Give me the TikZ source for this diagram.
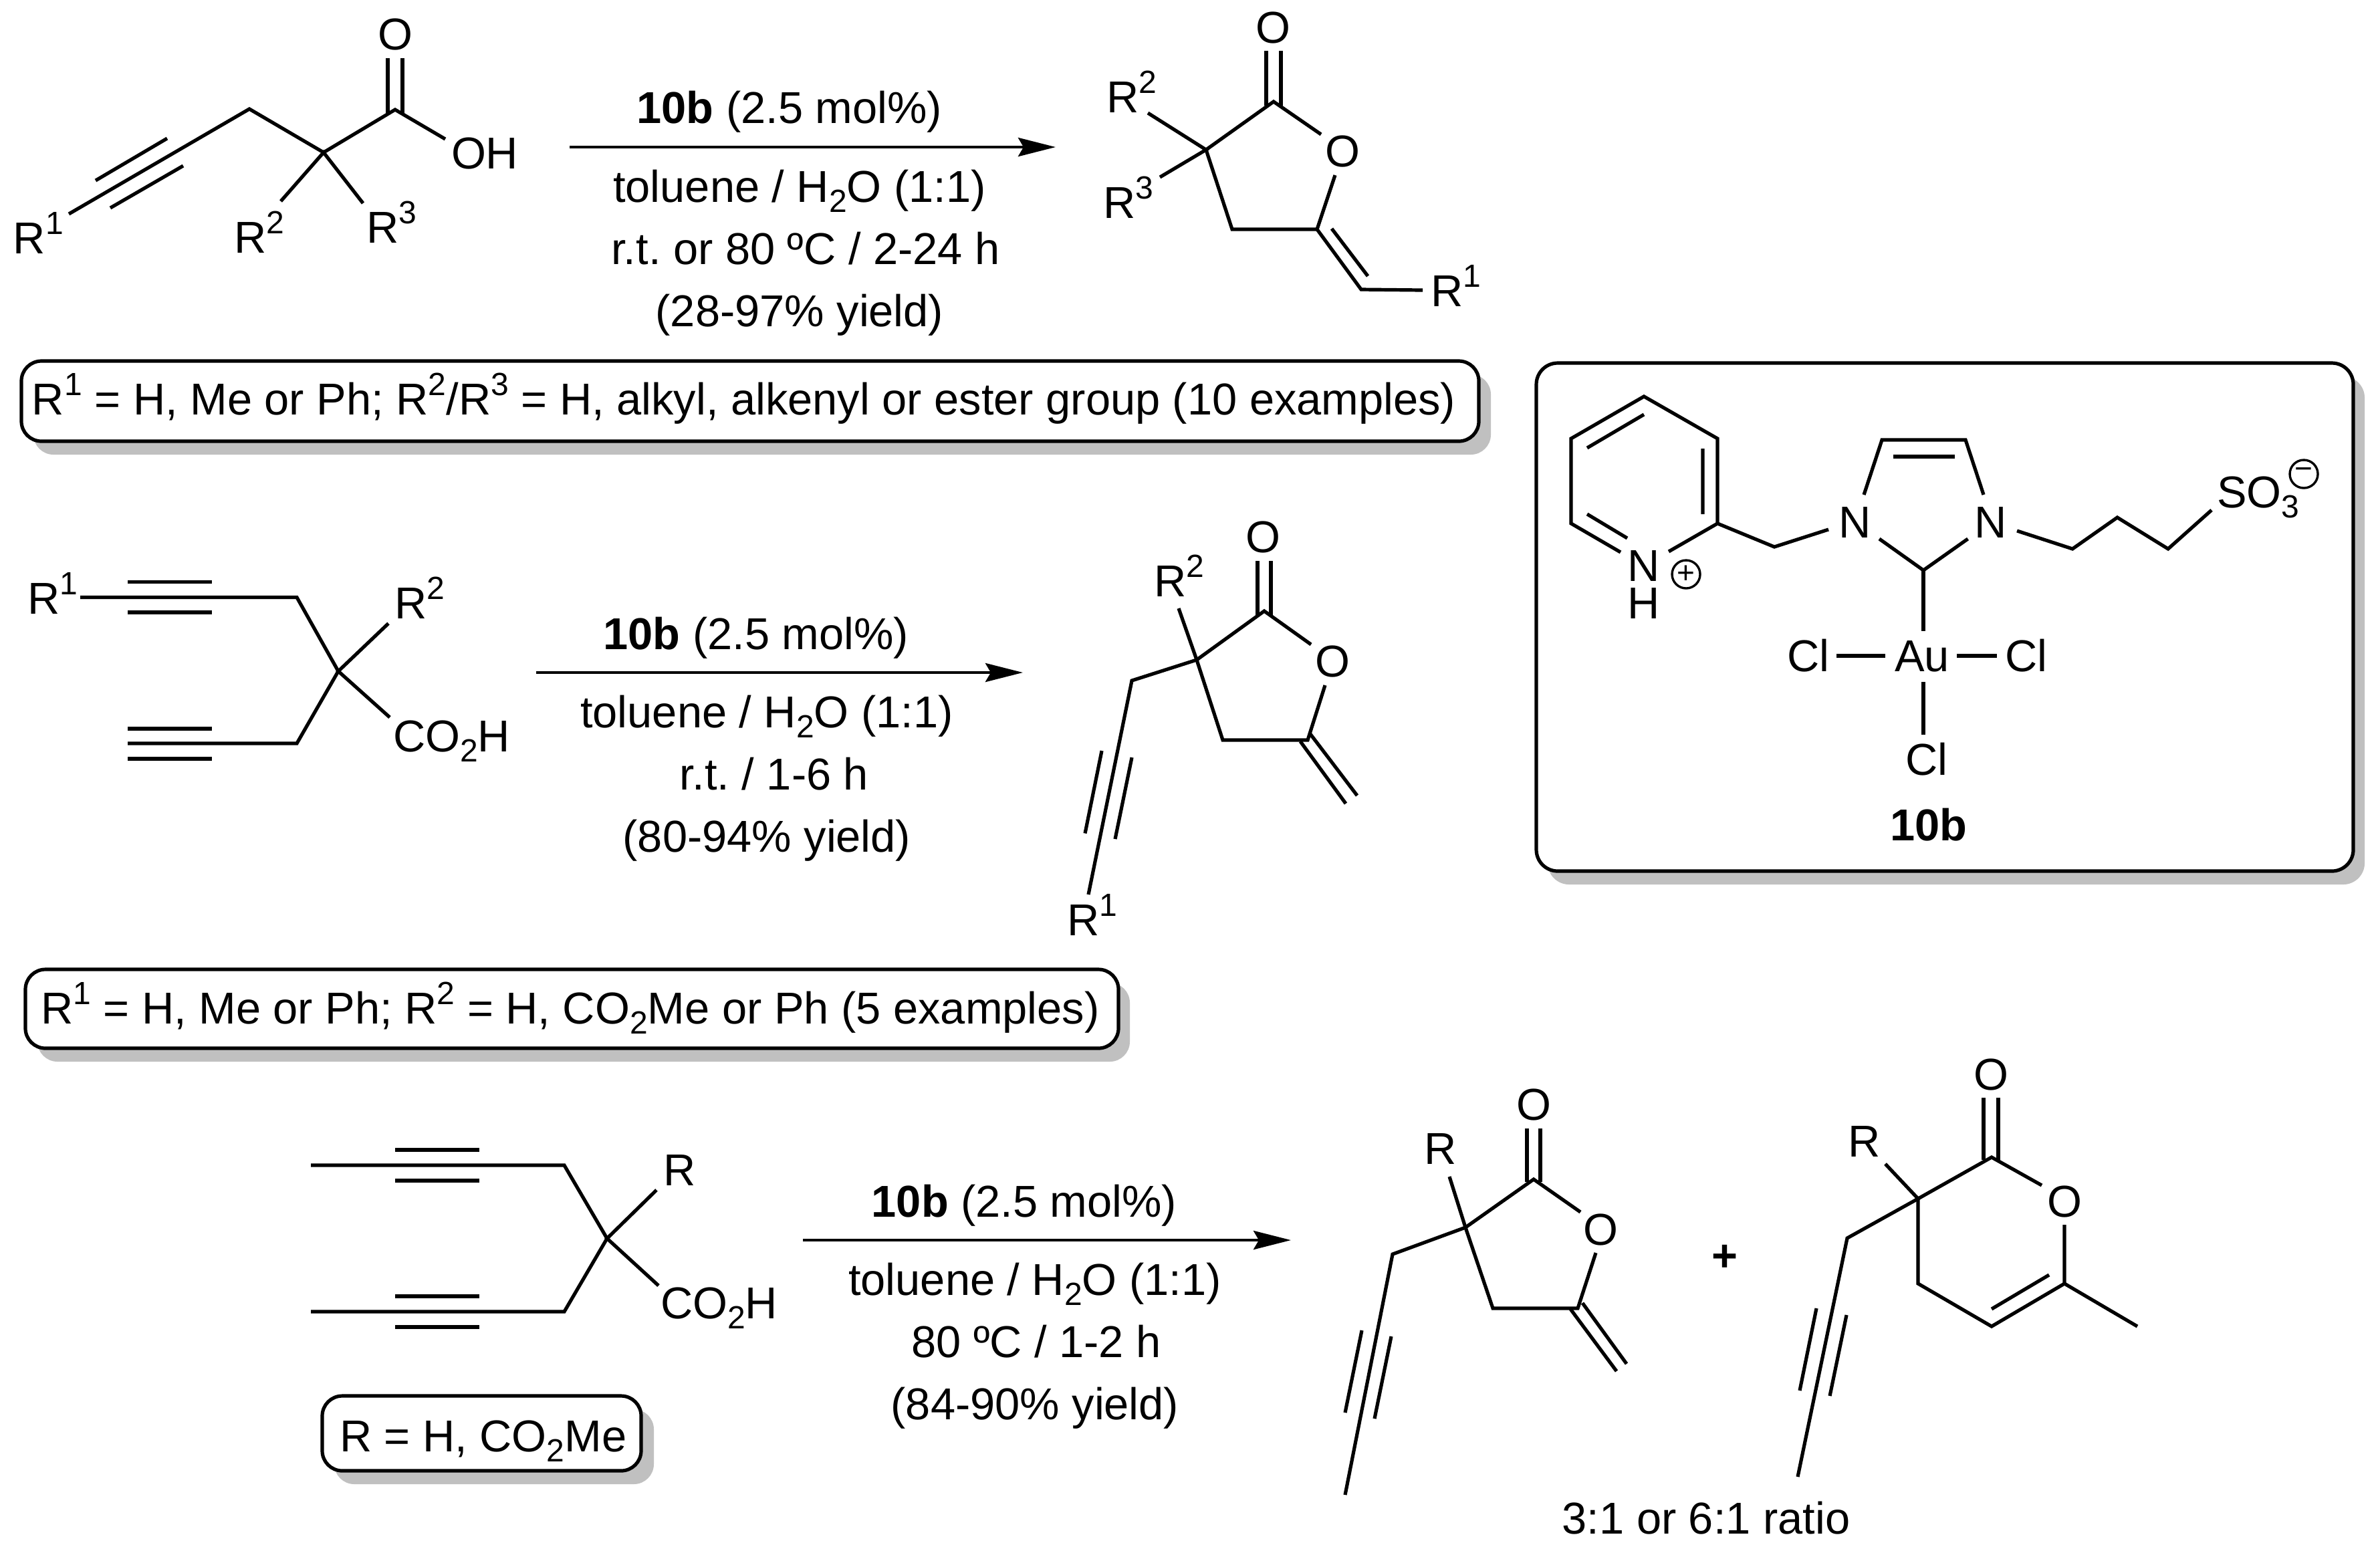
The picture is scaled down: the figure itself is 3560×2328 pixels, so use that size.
\documentclass[tikz,border=0pt]{standalone}
\usepackage{fontspec}
\setmainfont{Liberation Sans}
\usetikzlibrary{arrows.meta}
\frenchspacing
\newcommand\sups[1]{\raisebox{0.42em}{\fontsize{12}{12}\selectfont #1}}
\newcommand\subs[1]{\raisebox{-0.23em}{\fontsize{12}{12}\selectfont #1}}
\newcommand\lab[4]{\node[labw] (#1) at (#2,#3) {#4};}
\newcommand\cen[4]{\node[labc] (#1) at (#2,#3) {#4};}
\tikzset{
  labw/.style={anchor=base west,inner sep=0pt,outer sep=0pt,font=\fontsize{16.7}{18}\selectfont},
  labc/.style={anchor=base,inner sep=0pt,outer sep=0pt,font=\fontsize{16.7}{18}\selectfont},
  bond/.style={line width=1.3pt,line join=miter,line cap=butt,black},
  rxn/.style={line width=1.15pt,black,-{Stealth[length=14pt,width=7pt,inset=2pt]}},
  panel/.style={line width=1.3pt,draw=black,fill=white,rounded corners=7.5pt},
  shade/.style={fill=shadegray,draw=none,rounded corners=7.5pt},
  chg/.style={circle,draw=black,line width=0.85pt,minimum size=10.5pt,inner sep=0pt,font=\fontsize{11.5}{10}\selectfont}
}
\definecolor{shadegray}{HTML}{C0C0C0}
\begin{document}
\begin{tikzpicture}[x=0.25pt,y=-0.25pt]
\useasboundingbox (0,0) rectangle (3560,2328);
\fill[white] (0,0) rectangle (3560,2328);

% panels
\fill[shade] (50,560) rectangle (2230,680);
\draw[panel] (32,540) rectangle (2212,660);
\fill[shade] (56,1470) rectangle (1690,1588);
\draw[panel] (38,1450) rectangle (1673,1568);
\fill[shade] (500,2108) rectangle (978,2220);
\draw[panel] (482,2088) rectangle (959,2200);
\fill[shade,rounded corners=8pt] (2315,563) rectangle (3537,1323);
\draw[panel,rounded corners=8pt] (2298,543) rectangle (3520,1303);

% --- substrate 1
\cen{a1}{591}{74}{O}
\lab{a2}{675}{252}{OH}
\lab{a3}{20}{379}{R\sups{1}}
\lab{a4}{350}{378}{R\sups{2}}
\lab{a5}{548}{363}{R\sups{3}}
\draw[bond] (580,87)--(580,169) (602,87)--(602,169);
\draw[bond] (103,320)--(373,163)--(484,228)--(591,164)--(666,208);
\draw[bond] (143,270)--(250,207) (165,311)--(274,248);
\draw[bond] (420,301)--(484,228)--(543,304);

% --- product 1
\cen{b1}{1904}{64}{O}
\cen{b2}{2008}{249}{O}
\lab{b3}{2140}{458}{R\sups{1}}
\lab{b4}{1655}{168}{R\sups{2}}
\lab{b5}{1650}{326}{R\sups{3}}
\draw[bond] (1894,76)--(1894,158) (1916,76)--(1916,158);
\draw[bond] (1976,201)--(1905,152)--(1804,224)--(1843,343)--(1970,343)--(1997,262);
\draw[bond] (1717,169)--(1804,224)--(1735,265);
\draw[bond] (1970,343)--(2036,433)--(2128,434);
\draw[bond] (1992,342)--(2046,413);

% --- substrate 2
\lab{c1}{41}{918}{R\sups{1}}
\lab{c2}{590}{925}{R\sups{2}}
\lab{c3}{588}{1124}{CO\subs{2}H}
\draw[bond] (120,893.5)--(444,893.5)--(506,1004)--(444,1112)--(191,1112);
\draw[bond] (191,870.5)--(317,870.5) (191,916)--(317,916);
\draw[bond] (191,1090)--(317,1090) (191,1135)--(317,1135);
\draw[bond] (581,932.5)--(506,1004)--(583,1073);

% --- product 2
\cen{d1}{1889}{826}{O}
\cen{d2}{1993}{1012}{O}
\lab{d3}{1726}{892}{R\sups{2}}
\lab{d4}{1596}{1399}{R\sups{1}}
\draw[bond] (1881,839)--(1881,920) (1901,839)--(1901,920);
\draw[bond] (1961,964)--(1891,914)--(1790,987)--(1829,1107)--(1956,1107)--(1982,1025);
\draw[bond] (1763,910)--(1790,987)--(1693,1018)--(1628,1338);
\draw[bond] (1648,1123)--(1623,1246.5) (1693,1133)--(1668,1255);
\draw[bond] (1960,1098)--(2030,1190) (1945,1109)--(2013,1202);

% --- substrate 3
\lab{e1}{992}{1773.5}{R}
\lab{e2}{988}{1972}{CO\subs{2}H}
\draw[bond] (465,1743)--(844,1743)--(908,1852.5)--(844,1962)--(465,1962);
\draw[bond] (591,1720)--(717,1720) (591,1766)--(717,1766);
\draw[bond] (591,1939)--(717,1939) (591,1985)--(717,1985);
\draw[bond] (982,1780)--(908,1852.5)--(985,1923);
\lab{e3}{508}{2171}{R = H, CO\subs{2}Me}

% --- product 3a
\cen{f1}{2294}{1675}{O}
\cen{f2}{2394}{1862}{O}
\lab{f3}{2130}{1741}{R}
\draw[bond] (2284,1688)--(2284,1768) (2304,1688)--(2304,1768);
\draw[bond] (2364,1813)--(2294,1764)--(2192,1836)--(2233,1957)--(2360,1957)--(2387,1874);
\draw[bond] (2168,1760)--(2192,1836)--(2083,1876)--(2012,2236);
\draw[bond] (2037,1990)--(2012,2113) (2081,1999)--(2056,2122);
\draw[bond] (2367,1949)--(2433,2040) (2349,1958)--(2418,2051);
\node[labc] (plus) at (2580,1901) {\textbf{+}};

% --- product 3b
\cen{g1}{2978}{1630}{O}
\cen{g2}{3088}{1820}{O}
\lab{g3}{2764}{1730}{R}
\draw[bond] (2967,1642)--(2967,1735) (2989,1642)--(2989,1735);
\draw[bond] (3054,1773)--(2979,1731)--(2869,1793)--(2869,1920)--(2979,1984)--(3088,1920)--(3088,1832);
\draw[bond] (3088,1920)--(3197,1984);
\draw[bond] (3065,1907)--(2979,1958);
\draw[bond] (2820,1741)--(2869,1793)--(2763,1852)--(2689,2209);
\draw[bond] (2717,1957)--(2692,2080) (2762,1967)--(2737,2088);
\cen{g4}{2552}{2294}{3:1 or 6:1 ratio}

% --- catalyst 10b
\cen{h1}{2459}{869}{N}
\cen{h2}{2459}{925}{H}
\node[chg] (h3) at (2522,859) {+};
\cen{h4}{2775}{804}{N}
\cen{h5}{2978}{804}{N}
\cen{h6}{2875}{1004}{Au}
\cen{h7}{2705}{1004}{Cl}
\cen{h8}{3031}{1004}{Cl}
\cen{h9}{2882}{1159}{Cl}
\lab{h10}{3316}{759}{SO\subs{3}}
\node[chg] (h11) at (3446,709) {\raisebox{0.04em}{−}};
\node[labc] (h12) at (2885,1257) {\textbf{10b}};
\draw[bond] (2424,826)--(2350,783)--(2350,656)--(2459,593)--(2569,656)--(2569,783)--(2496,825);
\draw[bond] (2374,670)--(2459,620) (2547,671)--(2547,769) (2374,769)--(2434,805);
\draw[bond] (2569,783)--(2654,818)--(2735,792);
\draw[bond] (2788,740)--(2815,658)--(2940,658)--(2967,740);
\draw[bond] (2831.5,683)--(2923.5,683);
\draw[bond] (2811,806)--(2877,853)--(2943.5,806);
\draw[bond] (2877,853)--(2877,944);
\draw[bond] (2747,981)--(2820,981) (2927,981)--(2987,981);
\draw[bond] (2877,1020)--(2877,1099);
\draw[bond] (3017,794)--(3100,821)--(3167,774)--(3243,821)--(3308,763);

% --- arrows
\coordinate (p1) at (852,220); \coordinate (q1) at (1579,220);
\coordinate (p2) at (802,1006); \coordinate (q2) at (1530,1006);
\coordinate (p3) at (1201,1855); \coordinate (q3) at (1931,1855);
\draw[rxn] (p1)--(q1);
\draw[rxn] (p2)--(q2);
\draw[rxn] (p3)--(q3);

% --- conditions 1
\cen{r1}{1181}{184}{\textbf{10b} (2.5 mol\%)}
\cen{r2}{1196}{302}{toluene / H\subs{2}O (1:1)}
\cen{r3}{1205}{395}{r.t. or 80 ºC / 2-24 h}
\cen{r4}{1196}{488}{(28-97\% yield)}
% --- conditions 2
\cen{s1}{1131}{971}{\textbf{10b} (2.5 mol\%)}
\cen{s2}{1147}{1088}{toluene / H\subs{2}O (1:1)}
\cen{s3}{1158}{1181}{r.t. / 1-6 h}
\cen{s4}{1147}{1274}{(80-94\% yield)}
% --- conditions 3
\cen{t1}{1532}{1820}{\textbf{10b} (2.5 mol\%)}
\cen{t2}{1548}{1937}{toluene / H\subs{2}O (1:1)}
\cen{t3}{1550}{2030}{80 ºC / 1-2 h}
\cen{t4}{1548}{2123}{(84-90\% yield)}

% --- box texts
\lab{u1}{48}{620}{R\sups{1} = H, Me or Ph; R\sups{2}/R\sups{3} = H, alkyl, alkenyl or ester group (10 examples)}
\lab{u2}{61}{1531}{R\sups{1} = H, Me or Ph; R\sups{2} = H, CO\subs{2}Me or Ph (5 examples)}
\end{tikzpicture}
\end{document}
